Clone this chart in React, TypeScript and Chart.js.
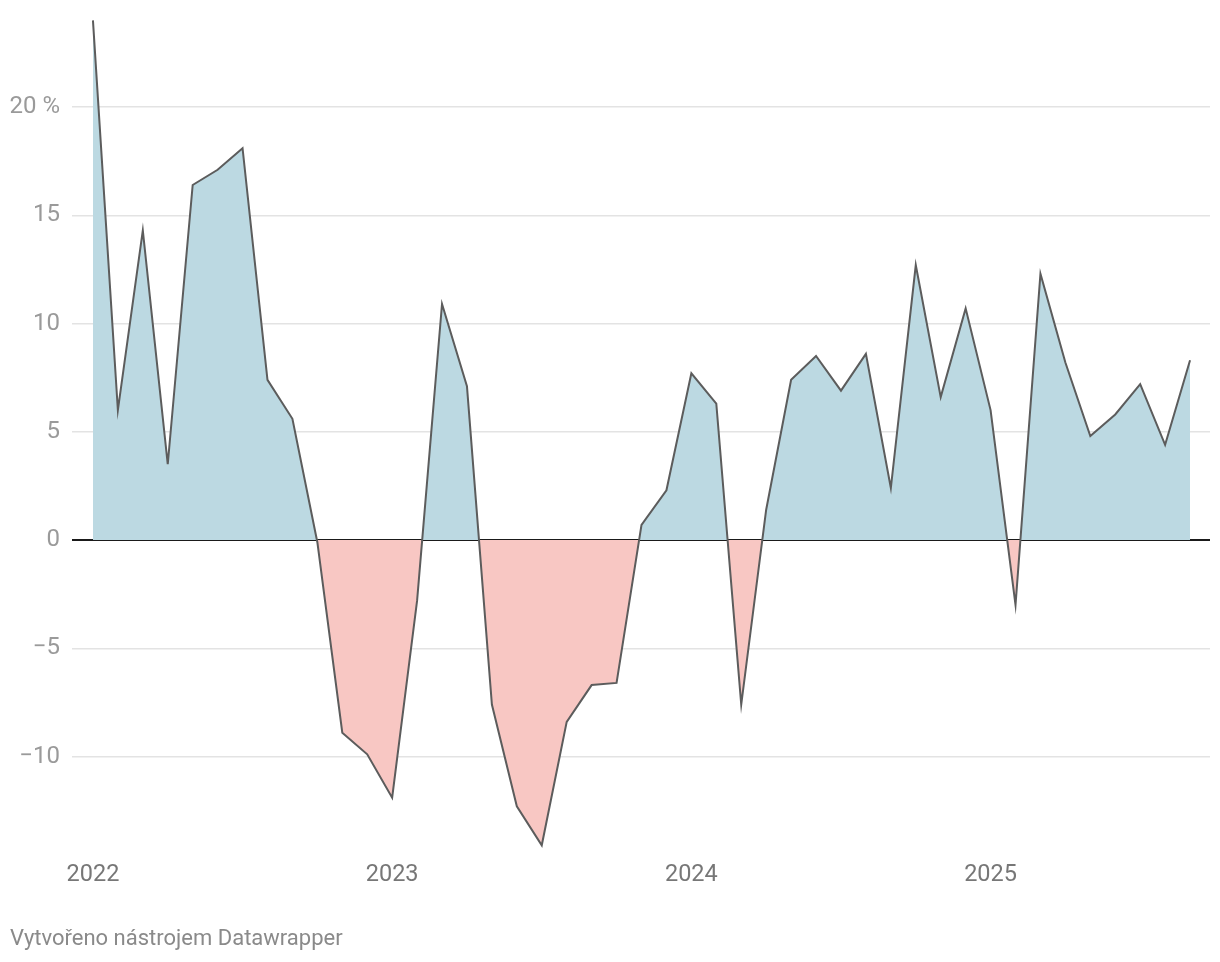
import React, { useEffect, useRef } from "react";
import { Chart, registerables } from "chart.js";

Chart.register(...registerables);

const months: string[] = [
  "2022-01","2022-02","2022-03","2022-04","2022-05","2022-06","2022-07","2022-08","2022-09","2022-10","2022-11","2022-12",
  "2023-01","2023-02","2023-03","2023-04","2023-05","2023-06","2023-07","2023-08","2023-09","2023-10","2023-11","2023-12",
  "2024-01","2024-02","2024-03","2024-04","2024-05","2024-06","2024-07","2024-08","2024-09","2024-10","2024-11","2024-12",
  "2025-01","2025-02","2025-03","2025-04","2025-05","2025-06","2025-07","2025-08","2025-09",
];

const values: number[] = [
  24.0, 6.0, 14.3, 3.5, 16.4, 17.1, 18.1, 7.4, 5.6, -0.1, -8.9, -9.9,
  -11.9, -2.8, 10.9, 7.1, -7.6, -12.3, -14.1, -8.4, -6.7, -6.6, 0.7, 2.3,
  7.7, 6.3, -7.6, 1.4, 7.4, 8.5, 6.9, 8.6, 2.4, 12.7, 6.6, 10.7,
  6.0, -3.0, 12.3, 8.2, 4.8, 5.8, 7.2, 4.4, 8.3,
];

const yearLabels: string[] = ["2022", "2023", "2024", "2025"];
const yTicks: number[] = [-10, -5, 0, 5, 10, 15, 20];
const footerText = "Vytvořeno nástrojem Datawrapper";

export default function App() {
  const ref = useRef<HTMLCanvasElement | null>(null);

  useEffect(() => {
    if (!ref.current) return;
    const points = values.map((v, i) => ({ x: i, y: v }));
    const yearIdx = yearLabels.map((y) => months.indexOf(y + "-01"));

    const chart = new Chart(ref.current, {
      type: "line",
      data: {
        datasets: [
          {
            data: points,
            borderColor: "#5c5c5c",
            borderWidth: 2,
            borderJoinStyle: "miter",
            pointRadius: 0,
            tension: 0,
            clip: false,
            fill: {
              target: "origin",
              above: "#bcd9e2",
              below: "#f8c7c3",
            },
          } as any,
        ],
      },
      options: {
        animation: false,
        responsive: true,
        maintainAspectRatio: false,
        layout: { padding: { top: 20, right: 10, left: 0, bottom: 0 } },
        plugins: {
          legend: { display: false },
          tooltip: { enabled: false },
        },
        scales: {
          x: {
            type: "linear",
            min: -0.84,
            max: 44.8,
            grid: { display: false },
            border: { display: false },
            afterFit: (s: any) => {
              s.height = 112.4;
            },
            afterBuildTicks: (s: any) => {
              s.ticks = yearIdx.map((v) => ({ value: v }));
            },
            ticks: {
              padding: 3,
              maxRotation: 0,
              autoSkip: false,
              color: "#777777",
              font: { family: "Roboto", size: 23.5 },
              callback: (v: any) => {
                const k = yearIdx.indexOf(Number(v));
                return k >= 0 ? yearLabels[k] : "";
              },
            },
          },
          y: {
            min: -14.3,
            max: 24.02,
            z: 1,
            border: { display: false },
            afterFit: (s: any) => {
              s.width = 72;
              s.paddingTop = 0;
              s.paddingBottom = 0;
            },
            afterBuildTicks: (s: any) => {
              s.ticks = yTicks.map((v) => ({ value: v }));
            },
            grid: {
              drawTicks: false,
              color: (ctx: any) =>
                ctx.tick && ctx.tick.value === 0 ? "#1a1a1a" : "rgba(0,0,0,0.11)",
              lineWidth: (ctx: any) => (ctx.tick && ctx.tick.value === 0 ? 2 : 1.5),
            },
            ticks: {
              padding: 12,
              color: "#9a9a9a",
              font: { family: "Roboto", size: 24 },
              callback: (v: any) => {
                const n = Number(v);
                if (n === 20) return "20 %";
                if (n < 0) return "\u2212" + Math.abs(n);
                return String(n);
              },
            },
          },
        },
      },
    });
    return () => chart.destroy();
  }, []);

  return (
    <div
      style={{
        position: "absolute",
        left: 0,
        top: 0,
        width: 1220,
        height: 962,
        background: "#ffffff",
      }}
    >
      <canvas ref={ref} />
      <div
        style={{
          position: "absolute",
          left: 10,
          top: 924,
          fontFamily: "Roboto",
          fontSize: 22,
          color: "#8a8a8a",
          lineHeight: "28px",
          whiteSpace: "nowrap",
        }}
      >
        {footerText}
      </div>
    </div>
  );
}
